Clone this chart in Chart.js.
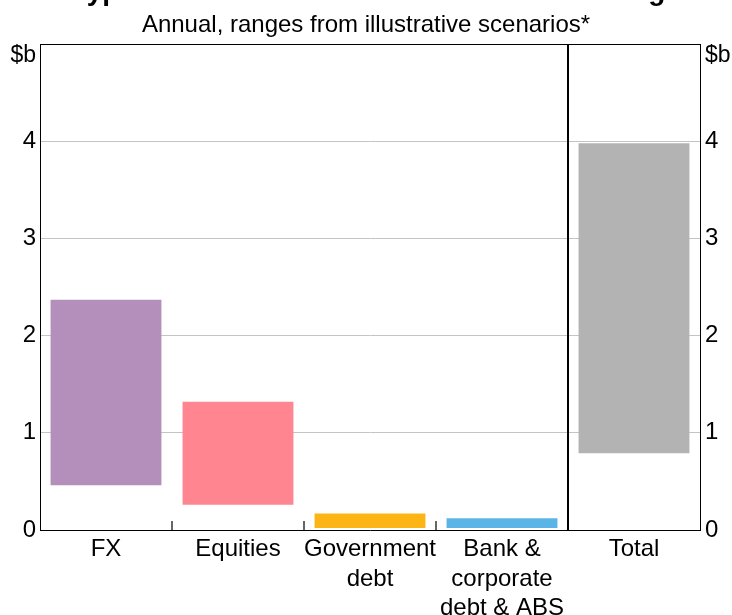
<!DOCTYPE html>
<html>
<head>
<meta charset="utf-8">
<script src="https://cdn.jsdelivr.net/npm/chart.js@4"></script>
<style>
  html, body { margin: 0; padding: 0; background: #fff; overflow: hidden; }
  #wrap { position: absolute; left: 0; top: -30px; width: 732px; height: 660px; }
</style>
</head>
<body>
<div id="wrap"><canvas id="chart"></canvas></div>
<script>
// Chart data
const titleText = 'Hypothetical Annual Cost of Central Clearing';
const subtitleText = 'Annual, ranges from illustrative scenarios*';
const unitLabel = '$b';
const categories = ['FX', 'Equities', ['Government', 'debt'], ['Bank &', 'corporate', 'debt & ABS'], 'Total'];
const rangeLow = [0.46, 0.26, 0.02, 0.02, 0.79];
const rangeHigh = [2.37, 1.32, 0.17, 0.12, 3.98];
const barColours = ['#b48fbb', '#ff8591', '#fdb515', '#5ab4e5', '#b3b3b3'];
const yMin = 0;
const yMax = 5;
const yStep = 1;

const FONT = "'Liberation Sans', Arial, sans-serif";

// Titles, unit labels, top border, separator and inward category ticks
const framePlugin = {
    id: 'frame',
    afterDraw(chart) {
        const ctx = chart.ctx;
        const area = chart.chartArea;
        const x = chart.scales.x;
        const cx = chart.width / 2;

        ctx.save();
        ctx.fillStyle = '#000';
        ctx.textAlign = 'center';
        ctx.textBaseline = 'alphabetic';
        ctx.font = 'bold 28px ' + FONT;
        ctx.fillText(titleText, cx, 30);
        ctx.font = '24px ' + FONT;
        ctx.fillText(subtitleText, cx, 62);

        ctx.font = '23px ' + FONT;
        ctx.textAlign = 'right';
        ctx.fillText(unitLabel, area.left - 4, 92);
        ctx.textAlign = 'left';
        ctx.fillText(unitLabel, area.right + 5, 92);

        ctx.strokeStyle = '#000';
        ctx.lineWidth = 1;
        ctx.beginPath();
        ctx.moveTo(area.left, area.top + 0.5);
        ctx.lineTo(area.right, area.top + 0.5);
        ctx.stroke();

        // boundaries between categories: short ticks, full line before Total
        const n = categories.length;
        for (let i = 0; i < n - 1; i++) {
            const bx = Math.round((x.getPixelForTick(i) + x.getPixelForTick(i + 1)) / 2);
            ctx.beginPath();
            if (i === n - 2) {
                ctx.lineWidth = 2;
                ctx.moveTo(bx, area.top);
                ctx.lineTo(bx, area.bottom);
            } else {
                ctx.lineWidth = 1.5;
                ctx.strokeStyle = '#333';
                ctx.moveTo(bx, area.bottom);
                ctx.lineTo(bx, area.bottom - 9);
            }
            ctx.stroke();
            ctx.strokeStyle = '#000';
        }
        ctx.restore();
    }
};

const gridColour = function (c) {
    const v = c.tick ? c.tick.value : null;
    return (v === yMin || v === yMax) ? 'rgba(0,0,0,0)' : '#c4c4c4';
};

new Chart(document.getElementById('chart'), {
    type: 'bar',
    data: {
        labels: categories,
        datasets: [{
            data: categories.map((c, i) => [rangeLow[i], rangeHigh[i]]),
            backgroundColor: barColours,
            borderWidth: 0,
            barPercentage: 0.84,
            categoryPercentage: 1
        }]
    },
    options: {
        responsive: true,
        maintainAspectRatio: false,
        animation: false,
        layout: { padding: { top: 74, left: 0, right: 0, bottom: 0 } },
        plugins: {
            legend: { display: false },
            tooltip: { enabled: false }
        },
        scales: {
            x: {
                grid: { display: false, drawTicks: false },
                border: { display: true, color: '#000', width: 1 },
                ticks: {
                    color: '#000',
                    font: { family: FONT, size: 24, lineHeight: 1.22 },
                    padding: 5,
                    maxRotation: 0,
                    autoSkip: false
                },
                afterFit: function (s) { s.height = 100; }
            },
            y: {
                position: 'left',
                min: yMin,
                max: yMax,
                grid: { color: gridColour, drawTicks: false, lineWidth: 1 },
                border: { display: true, color: '#000', width: 1 },
                ticks: {
                    stepSize: yStep,
                    color: '#000',
                    padding: 4,
                    font: { family: FONT, size: 24 },
                    callback: v => (v === yMax ? '' : v)
                },
                afterFit: function (s) { s.width = 40; }
            },
            y2: {
                position: 'right',
                min: yMin,
                max: yMax,
                grid: { display: false, drawTicks: false },
                border: { display: true, color: '#000', width: 1 },
                ticks: {
                    stepSize: yStep,
                    color: '#000',
                    padding: 5,
                    font: { family: FONT, size: 24 },
                    callback: v => (v === yMax ? '' : v)
                },
                afterFit: function (s) { s.width = 32; }
            }
        }
    },
    plugins: [framePlugin]
});
</script>
</body>
</html>
